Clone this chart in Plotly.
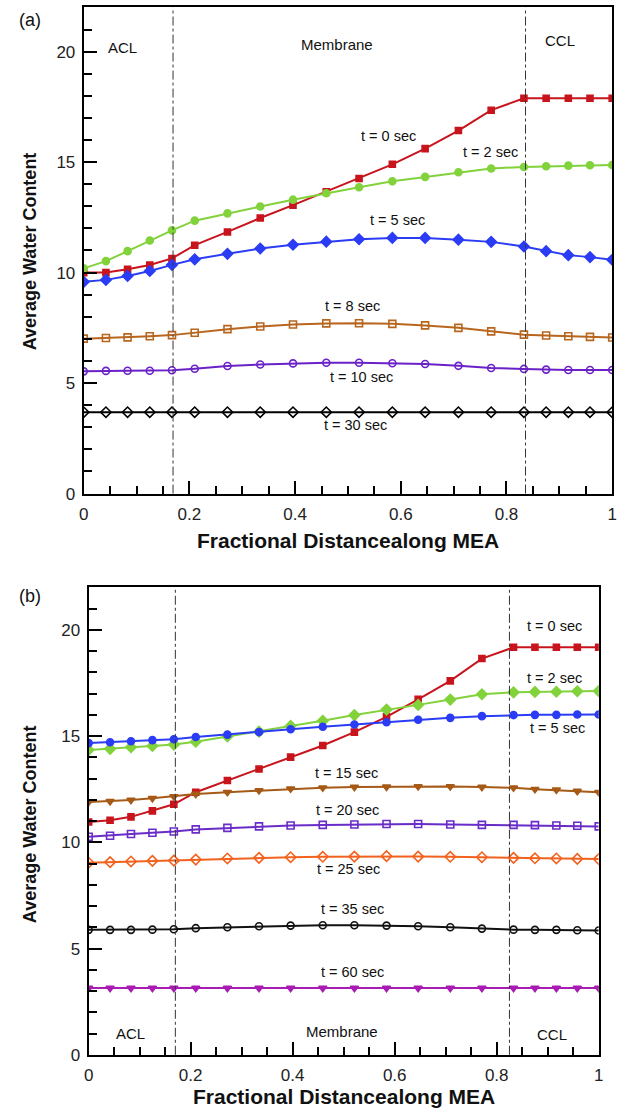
import plotly.graph_objects as go

# ---------------- data ----------------
x_pos = [0.0, 0.042, 0.083, 0.125, 0.167, 0.21, 0.272, 0.334, 0.396, 0.459,
         0.521, 0.584, 0.646, 0.709, 0.771, 0.833, 0.875, 0.917, 0.958, 1.0]

# panel (a)
a_t0 = [10.0, 10.0, 10.15, 10.34, 10.64, 11.24, 11.84, 12.47, 13.05, 13.66,
        14.26, 14.90, 15.61, 16.43, 17.35, 17.89, 17.89, 17.89, 17.89, 17.89]
a_t2 = [10.19, 10.52, 10.97, 11.45, 11.91, 12.35, 12.68, 12.99, 13.30, 13.59,
        13.86, 14.13, 14.33, 14.54, 14.71, 14.78, 14.81, 14.84, 14.86, 14.87]
a_t5 = [9.58, 9.67, 9.85, 10.07, 10.35, 10.60, 10.85, 11.09, 11.26, 11.40,
        11.51, 11.57, 11.57, 11.49, 11.39, 11.18, 10.97, 10.79, 10.70, 10.58]
a_t8 = [7.01, 7.04, 7.07, 7.12, 7.17, 7.28, 7.44, 7.56, 7.65, 7.70,
        7.71, 7.68, 7.61, 7.50, 7.34, 7.19, 7.15, 7.12, 7.09, 7.06]
a_t10 = [5.53, 5.55, 5.56, 5.56, 5.58, 5.65, 5.77, 5.84, 5.89, 5.92,
         5.92, 5.90, 5.86, 5.78, 5.68, 5.64, 5.61, 5.59, 5.59, 5.59]
a_t30 = [3.68] * 20

# panel (b)
b_t0 = [10.96, 11.04, 11.20, 11.48, 11.79, 12.36, 12.91, 13.45, 14.01, 14.56,
        15.19, 15.91, 16.73, 17.60, 18.65, 19.18, 19.18, 19.18, 19.18, 19.18]
b_t2 = [14.35, 14.40, 14.48, 14.54, 14.60, 14.74, 14.98, 15.21, 15.48, 15.72,
        15.99, 16.25, 16.47, 16.72, 16.97, 17.06, 17.08, 17.09, 17.11, 17.12]
b_t5 = [14.67, 14.71, 14.76, 14.81, 14.85, 14.96, 15.07, 15.19, 15.32, 15.44,
        15.55, 15.65, 15.77, 15.86, 15.94, 15.99, 16.0, 16.0, 16.02, 16.02]
b_t15 = [11.90, 11.93, 11.99, 12.07, 12.16, 12.27, 12.36, 12.44, 12.52, 12.57,
         12.60, 12.61, 12.63, 12.63, 12.60, 12.57, 12.50, 12.47, 12.41, 12.36]
b_t20 = [10.26, 10.31, 10.39, 10.45, 10.51, 10.61, 10.68, 10.75, 10.79, 10.82,
         10.84, 10.86, 10.86, 10.84, 10.82, 10.82, 10.81, 10.79, 10.78, 10.75]
b_t25 = [9.04, 9.07, 9.10, 9.13, 9.14, 9.19, 9.24, 9.27, 9.30, 9.32,
         9.33, 9.35, 9.33, 9.32, 9.30, 9.27, 9.25, 9.24, 9.22, 9.21]
b_t35 = [5.88, 5.88, 5.88, 5.89, 5.91, 5.96, 6.00, 6.05, 6.08, 6.10,
         6.10, 6.08, 6.05, 6.00, 5.94, 5.89, 5.88, 5.88, 5.86, 5.85]
b_t60 = [3.14] * 20

boundaries_a = [0.169, 0.836]
boundaries_b = [0.170, 0.825]

labels_a = ["t = 0 sec", "t = 2 sec", "t = 5 sec", "t = 8 sec", "t = 10 sec", "t = 30 sec"]
labels_b = ["t = 0 sec", "t = 2 sec", "t = 5 sec", "t = 15 sec", "t = 20 sec",
            "t = 25 sec", "t = 35 sec", "t = 60 sec"]
regions = ["ACL", "Membrane", "CCL"]
x_title = "Fractional Distancealong MEA"
y_title = "Average Water Content"

# ---------------- figure ----------------
FONT = "Arial, Liberation Sans, sans-serif"
fig = go.Figure()


def add(xa, ya, y, color, symbol, size=7, open_=False):
    fig.add_trace(go.Scatter(
        x=x_pos, y=y, xaxis=xa, yaxis=ya, mode="lines+markers",
        line=dict(color=color, width=2),
        marker=dict(symbol=symbol + ("-open" if open_ else ""), size=size, color=color,
                    line=dict(color=color, width=1.6)),
        showlegend=False, hoverinfo="skip"))


RED = "#c8141c"
GREEN = "#82d23c"
BLUE = "#2b3cf5"

add("x", "y", a_t0, RED, "square", 6)
add("x", "y", a_t2, GREEN, "circle", 7)
add("x", "y", a_t5, BLUE, "diamond", 8)
add("x", "y", a_t8, "#b8661e", "square", 7, True)
add("x", "y", a_t10, "#6a22c8", "circle", 7, True)
add("x", "y", a_t30, "#000000", "diamond", 8, True)

add("x2", "y2", b_t0, RED, "square", 6)
add("x2", "y2", b_t2, GREEN, "diamond", 8)
add("x2", "y2", b_t5, BLUE, "circle", 7)
add("x2", "y2", b_t15, "#a65a16", "triangle-down", 7)
add("x2", "y2", b_t20, "#6a2cc8", "square", 7, True)
add("x2", "y2", b_t25, "#f2621e", "diamond", 8, True)
add("x2", "y2", b_t35, "#111111", "circle", 7, True)
add("x2", "y2", b_t60, "#a81cb4", "triangle-down", 7)

W, H = 629, 1119
axis_common = dict(
    showline=True, linecolor="black", linewidth=2, mirror=True,
    ticks="inside", ticklen=13, tickwidth=2, tickcolor="black",
    showgrid=False, zeroline=False,
    tickfont=dict(family=FONT, size=17, color="#222"),
)
xax = dict(axis_common, range=[0, 1], tickvals=[0, 0.2, 0.4, 0.6, 0.8, 1],
           ticktext=["0", "0.2", "0.4", "0.6", "0.8", "1"], ticklabelstandoff=4,
           minor=dict(dtick=0.05, tick0=0, ticks="inside", ticklen=8, tickwidth=2, tickcolor="black"))
yax = dict(axis_common, range=[0, 22], tickvals=[0, 5, 10, 15, 20], ticklabelstandoff=3,
           minor=dict(dtick=1, tick0=0, ticks="inside", ticklen=8, tickwidth=2, tickcolor="black"))

fig.update_layout(
    width=W, height=H, autosize=False,
    margin=dict(l=0, r=0, t=0, b=0),
    paper_bgcolor="white", plot_bgcolor="white",
    xaxis=dict(xax, domain=[80 / W, 617 / W], anchor="y"),
    yaxis=dict(yax, domain=[1 - 498 / H, 1 - 7.5 / H], anchor="x"),
    xaxis2=dict(xax, domain=[85 / W, 603.3 / W], anchor="y2"),
    yaxis2=dict(yax, domain=[1 - 1064.3 / H, 1 - 592.7 / H], anchor="x2"),
)

# boundary lines
for bx in boundaries_a:
    fig.add_shape(type="line", xref="x", yref="y domain", x0=bx, x1=bx, y0=0, y1=1,
                  line=dict(color="#333", width=1, dash="dashdot"))
for bx in boundaries_b:
    fig.add_shape(type="line", xref="x2", yref="y2 domain", x0=bx, x1=bx, y0=0, y1=1,
                  line=dict(color="#333", width=1, dash="dashdot"))


def note(xr, yr, x, y, text, size=14.5):
    fig.add_annotation(xref=xr, yref=yr, x=x, y=y, text=text, showarrow=False,
                       xanchor="center", yanchor="middle",
                       font=dict(family=FONT, size=size, color="#111"))


# panel (a) annotations
pos_a = [(0.577, 16.16), (0.77, 15.47), (0.594, 12.39), (0.508, 8.5), (0.526, 5.29), (0.514, 3.09)]
for (px, py), t in zip(pos_a, labels_a):
    note("x", "y", px, py, t)
for (px, py), t in zip([(0.073, 20.17), (0.479, 20.34), (0.902, 20.5)], regions):
    note("x", "y", px, py, t, 15)

# panel (b) annotations
pos_b = [(0.913, 20.16), (0.913, 17.75), (0.919, 15.40), (0.506, 13.27), (0.507, 11.51),
         (0.510, 8.75), (0.517, 6.86), (0.517, 3.90)]
for (px, py), t in zip(pos_b, labels_b):
    note("x2", "y2", px, py, t)
for (px, py), t in zip([(0.082, 0.98), (0.497, 1.10), (0.909, 0.95)], regions):
    note("x2", "y2", px, py, t, 15)


def paper_text(x, y, text, size, bold=False, angle=0):
    fig.add_annotation(xref="paper", yref="paper", x=x / W, y=1 - y / H,
                       text=("<b>" + text + "</b>") if bold else text,
                       showarrow=False, xanchor="center", yanchor="middle", textangle=angle,
                       font=dict(family=FONT, size=size, color="#111"))


# panel letters
paper_text(25.5, 20, "(a)", 18)
paper_text(25.5, 601, "(b)", 18)

# axis titles
paper_text((80 + 617) / 2, 545, x_title, 21, bold=True)
paper_text((85 + 603) / 2, 1106, x_title, 21, bold=True)
paper_text(25, 254, y_title, 18, bold=True, angle=-90)
paper_text(25, 832, y_title, 18, bold=True, angle=-90)

fig.write_html("out.html")
